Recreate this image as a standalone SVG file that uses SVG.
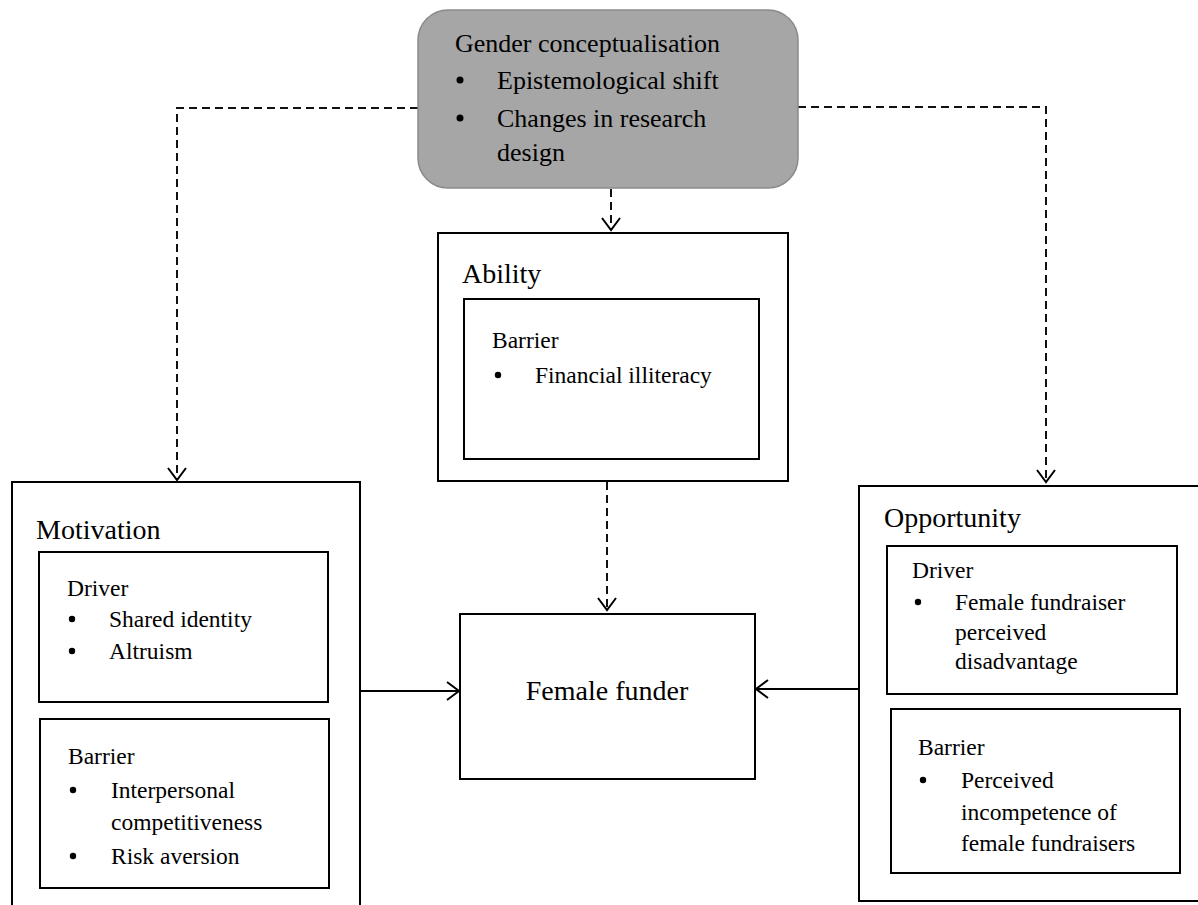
<svg xmlns="http://www.w3.org/2000/svg" width="1198" height="905" viewBox="0 0 1198 905">
  <style>
    text { font-family: "Liberation Serif", "Times New Roman", serif; fill: #000; }
    .t28 { font-size: 28px; }
    .t26 { font-size: 26px; }
    .t23 { font-size: 23.5px; }
    .box { fill: #fff; stroke: #000; stroke-width: 2; }
    .dash { fill: none; stroke: #111; stroke-width: 2; stroke-dasharray: 8 5; }
    .solid { fill: none; stroke: #000; stroke-width: 2; }
  </style>
  <defs>
    <!-- open V arrowhead shared by all connectors -->
    <marker id="vee" viewBox="0 0 16 22" refX="14" refY="11" markerWidth="16" markerHeight="22" markerUnits="userSpaceOnUse" orient="auto">
      <path d="M2,2 L14,11 L2,20" fill="none" stroke="#000" stroke-width="2"/>
    </marker>
  </defs>

  <rect width="1198" height="905" fill="#fff"/>

  <!-- connectors -->
  <g id="connectors">
    <path class="dash" d="M418,108 H177 V480" marker-end="url(#vee)"/>
    <path class="dash" d="M798,107 H1046 V482" marker-end="url(#vee)"/>
    <path class="dash" d="M611,189 V230" marker-end="url(#vee)"/>
    <path class="dash" d="M607,482 V610" marker-end="url(#vee)"/>
    <path class="solid" d="M360,691 H459" marker-end="url(#vee)"/>
    <path class="solid" d="M859,689 H756" marker-end="url(#vee)"/>
  </g>

  <!-- gender conceptualisation -->
  <g id="gender">
    <rect x="418" y="10" width="380" height="178" rx="30" ry="30" fill="#a6a6a6" stroke="#8a8a8a" stroke-width="1.5"/>
    <text class="t26" x="455" y="52">Gender conceptualisation</text>
    <circle cx="460" cy="80" r="3.5" fill="#000"/>
    <text class="t26" x="497" y="89">Epistemological shift</text>
    <circle cx="460" cy="118" r="3.5" fill="#000"/>
    <text class="t26" x="497" y="127">Changes in research</text>
    <text class="t26" x="497" y="161">design</text>
  </g>

  <!-- ability -->
  <g id="ability">
    <rect class="box" x="438" y="233" width="350" height="248"/>
    <text class="t28" x="462" y="283">Ability</text>
    <rect class="box" x="464" y="299" width="295" height="160"/>
    <text class="t23" x="492" y="348">Barrier</text>
    <circle cx="498" cy="375" r="3.2" fill="#000"/>
    <text class="t23" x="535" y="383">Financial illiteracy</text>
  </g>

  <!-- motivation -->
  <g id="motivation">
    <path class="solid" d="M12,906 V482 H360 V906"/>
    <text class="t28" x="36" y="539">Motivation</text>
    <rect class="box" x="39" y="552" width="289" height="150"/>
    <text class="t23" x="67" y="596">Driver</text>
    <circle cx="72" cy="619" r="3.2" fill="#000"/>
    <text class="t23" x="109" y="627">Shared identity</text>
    <circle cx="72" cy="651" r="3.2" fill="#000"/>
    <text class="t23" x="109" y="659">Altruism</text>
    <rect class="box" x="40" y="719" width="289" height="169"/>
    <text class="t23" x="68" y="764">Barrier</text>
    <circle cx="73" cy="790" r="3.2" fill="#000"/>
    <text class="t23" x="111" y="798">Interpersonal</text>
    <text class="t23" x="111" y="830">competitiveness</text>
    <circle cx="73" cy="856" r="3.2" fill="#000"/>
    <text class="t23" x="111" y="864">Risk aversion</text>
  </g>

  <!-- female funder -->
  <g id="female-funder">
    <rect class="box" x="460" y="614" width="295" height="165"/>
    <text class="t28" x="607" y="700" text-anchor="middle">Female funder</text>
  </g>

  <!-- opportunity -->
  <g id="opportunity">
    <path class="solid" d="M1200,486 H859 V901 H1200"/>
    <text class="t28" x="884" y="527">Opportunity</text>
    <rect class="box" x="887" y="546" width="290" height="148"/>
    <text class="t23" x="912" y="578">Driver</text>
    <circle cx="918" cy="602" r="3.2" fill="#000"/>
    <text class="t23" x="955" y="610">Female fundraiser</text>
    <text class="t23" x="955" y="640">perceived</text>
    <text class="t23" x="955" y="669">disadvantage</text>
    <rect class="box" x="891" y="709" width="289" height="164"/>
    <text class="t23" x="918" y="755">Barrier</text>
    <circle cx="923" cy="780" r="3.2" fill="#000"/>
    <text class="t23" x="961" y="788">Perceived</text>
    <text class="t23" x="961" y="820">incompetence of</text>
    <text class="t23" x="961" y="851">female fundraisers</text>
  </g>
</svg>
